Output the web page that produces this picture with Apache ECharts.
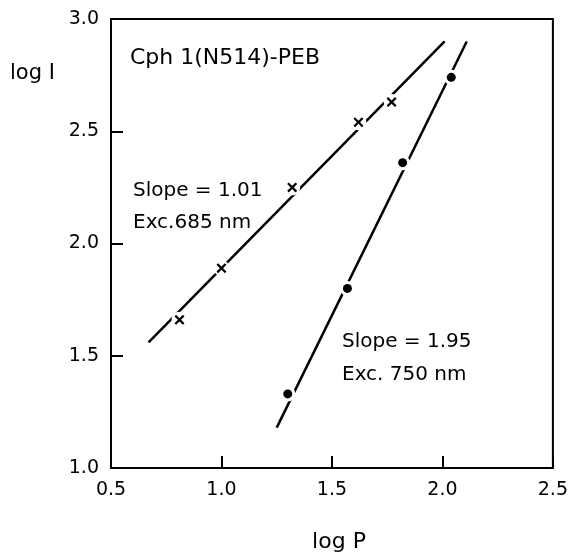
<!DOCTYPE html>
<html>
<head>
<meta charset="utf-8">
<script src="https://cdn.jsdelivr.net/npm/echarts@6/dist/echarts.min.js"></script>
<style>
html,body{margin:0;padding:0;background:#fff;}
#chart{width:571px;height:553px;}
</style>
</head>
<body>
<div id="chart"></div>
<script>
// Data
var cross685X = [0.81, 1.00, 1.32, 1.62, 1.77];
var cross685Y = [1.66, 1.89, 2.25, 2.54, 2.63];
var dot750X = [1.30, 1.57, 1.82, 2.04];
var dot750Y = [1.33, 1.80, 2.36, 2.74];
var fit685X = [0.67, 2.01];
var fit685Y = [1.56, 2.90];
var fit750X = [1.25, 2.11];
var fit750Y = [1.18, 2.90];
var xTicks = [0.5, 1.0, 1.5, 2.0, 2.5];
var yTicks = [1.0, 1.5, 2.0, 2.5, 3.0];

function pairs(xs, ys){ return xs.map(function(x,i){ return [x, ys[i]]; }); }

var FONT = 'DejaVu Sans';
var INK = '#000';
var crossPath = 'path://M0,1.6L1.6,0L5,3.4L8.4,0L10,1.6L6.6,5L10,8.4L8.4,10L5,6.6L1.6,10L0,8.4L3.4,5Z';

var chart = echarts.init(document.getElementById('chart'));
chart.setOption({
  animation: false,
  backgroundColor: '#fff',
  grid: {left: 111, right: 11, top: 19, bottom: 85, show: true, borderColor: INK, borderWidth: 2, backgroundColor: 'transparent'},
  xAxis: {
    type: 'value', min: xTicks[0], max: xTicks[xTicks.length-1], interval: 0.5,
    axisLine: {show: true, lineStyle: {color: INK, width: 2}},
    axisTick: {show: true, inside: true, length: 12, lineStyle: {color: INK, width: 2}},
    splitLine: {show: false},
    axisLabel: {color: INK, fontFamily: FONT, fontSize: 19, margin: 13,
      formatter: function(v){ return v.toFixed(1); }}
  },
  yAxis: {
    type: 'value', min: yTicks[0], max: yTicks[yTicks.length-1], interval: 0.5,
    axisLine: {show: true, lineStyle: {color: INK, width: 2}},
    axisTick: {show: true, inside: true, length: 12, lineStyle: {color: INK, width: 2}},
    splitLine: {show: false},
    axisLabel: {color: INK, fontFamily: FONT, fontSize: 19, margin: 12,
      formatter: function(v){ return v.toFixed(1); }}
  },
  series: [
    {type: 'line', data: pairs(fit685X, fit685Y), symbol: 'none', lineStyle: {color: INK, width: 2.5}, z: 2},
    {type: 'line', data: pairs(fit750X, fit750Y), symbol: 'none', lineStyle: {color: INK, width: 2.5}, z: 2},
    {type: 'scatter', data: pairs(cross685X, cross685Y), symbol: 'circle', symbolSize: 16, itemStyle: {color: '#fff', opacity: 1}, z: 3},
    {type: 'scatter', data: pairs(dot750X, dot750Y), symbol: 'circle', symbolSize: 15, itemStyle: {color: '#fff', opacity: 1}, z: 3},
    {type: 'scatter', data: pairs(cross685X, cross685Y), symbol: crossPath, symbolSize: 10, itemStyle: {color: INK, opacity: 1}, z: 4},
    {type: 'scatter', data: pairs(dot750X, dot750Y), symbol: 'circle', symbolSize: 9, itemStyle: {color: INK, opacity: 1}, z: 4}
  ],
  graphic: [
    {type: 'text', x: 10, y: 74, style: {text: 'log I', font: '21px "DejaVu Sans"', fill: INK, textVerticalAlign: 'middle'}},
    {type: 'text', x: 339, y: 542, style: {text: 'log P', font: '22px "DejaVu Sans"', fill: INK, textAlign: 'center', textVerticalAlign: 'middle'}},
    {type: 'text', x: 130, y: 58, style: {text: 'Cph 1(N514)-PEB', font: '22px "DejaVu Sans"', fill: INK, textVerticalAlign: 'middle'}},
    {type: 'text', x: 133, y: 191, style: {text: 'Slope = 1.01', font: '20px "DejaVu Sans"', fill: INK, textVerticalAlign: 'middle'}},
    {type: 'text', x: 133, y: 223, style: {text: 'Exc.685 nm', font: '20px "DejaVu Sans"', fill: INK, textVerticalAlign: 'middle'}},
    {type: 'text', x: 342, y: 342, style: {text: 'Slope = 1.95', font: '20px "DejaVu Sans"', fill: INK, textVerticalAlign: 'middle'}},
    {type: 'text', x: 342, y: 375, style: {text: 'Exc. 750 nm', font: '20px "DejaVu Sans"', fill: INK, textVerticalAlign: 'middle'}}
  ]
});
</script>
</body>
</html>
